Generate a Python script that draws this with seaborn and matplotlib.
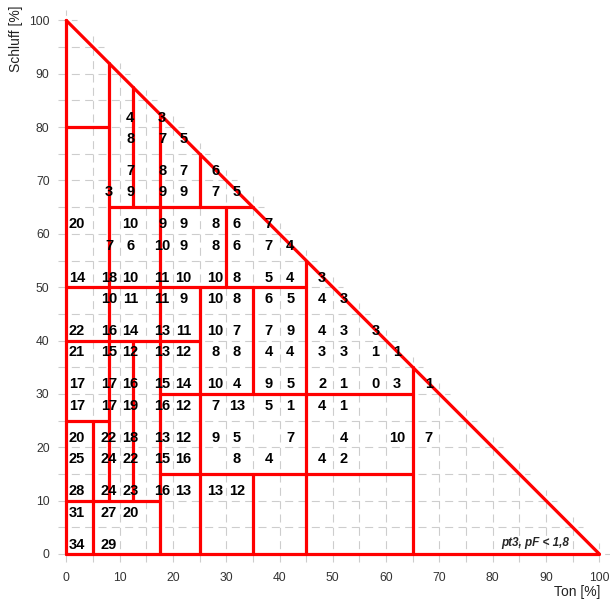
import matplotlib
matplotlib.use('Agg')
import matplotlib.pyplot as plt
import seaborn as sns
import pandas as pd

sns.set_style('white')
plt.rcParams['font.family'] = ['Liberation Sans', 'DejaVu Sans']

# Ton [%] positions of the number columns, Schluff [%] positions of the rows
ton_cols = [2, 8, 12, 18, 22, 28, 32, 38, 42, 48, 52, 58, 62, 68]
schluff_rows = [82, 78, 72, 68, 62, 58, 52, 48, 42, 38, 32, 28, 22, 18, 12, 8, 2]

N = None
values = [
    [N, N, 4, 3, N, N, N, N, N, N, N, N, N, N],        # 82
    [N, N, 8, 7, 5, N, N, N, N, N, N, N, N, N],        # 78
    [N, N, 7, 8, 7, 6, N, N, N, N, N, N, N, N],        # 72
    [N, 3, 9, 9, 9, 7, 5, N, N, N, N, N, N, N],        # 68
    [20, N, 10, 9, 9, 8, 6, 7, N, N, N, N, N, N],      # 62
    [N, 7, 6, 10, 9, 8, 6, 7, 4, N, N, N, N, N],       # 58
    [14, 18, 10, 11, 10, 10, 8, 5, 4, 3, N, N, N, N],  # 52
    [N, 10, 11, 11, 9, 10, 8, 6, 5, 4, 3, N, N, N],    # 48
    [22, 16, 14, 13, 11, 10, 7, 7, 9, 4, 3, 3, N, N],  # 42
    [21, 15, 12, 13, 12, 8, 8, 4, 4, 3, 3, 1, 1, N],   # 38
    [17, 17, 16, 15, 14, 10, 4, 9, 5, 2, 1, 0, 3, 1],  # 32
    [17, 17, 19, 16, 12, 7, 13, 5, 1, 4, 1, N, N, N],  # 28
    [20, 22, 18, 13, 12, 9, 5, N, 7, N, 4, N, 10, 7],  # 22
    [25, 24, 22, 15, 16, N, 8, 4, N, 4, 2, N, N, N],   # 18
    [28, 24, 23, 16, 13, 13, 12, N, N, N, N, N, N, N], # 12
    [31, 27, 20, N, N, N, N, N, N, N, N, N, N, N],     # 8
    [34, 29, N, N, N, N, N, N, N, N, N, N, N, N],      # 2
]

# class boundaries (x1, y1, x2, y2) in Ton / Schluff
boundaries = [
    (0, 0, 100, 0), (0, 0, 0, 100), (0, 100, 100, 0),
    (5, 0, 5, 25), (8, 10, 8, 92), (12.5, 10, 12.5, 40), (12.5, 65, 12.5, 87.5),
    (17.5, 0, 17.5, 82.5), (25, 0, 25, 50), (25, 65, 25, 75), (30, 50, 30, 65),
    (35, 0, 35, 15), (35, 30, 35, 50), (45, 0, 45, 55), (65, 0, 65, 35),
    (0, 80, 8, 80), (8, 65, 35, 65), (0, 50, 45, 50), (0, 40, 25, 40),
    (17.5, 30, 65, 30), (0, 25, 8, 25), (17.5, 15, 65, 15), (0, 10, 17.5, 10),
]

ticks = list(range(0, 101, 10))

fig = plt.figure(figsize=(6.12, 6.02), dpi=100)
ax = fig.add_axes([0.0822, 0.0532, 0.9145, 0.9306])

# dashed grid, only inside the triangle; dashes end at each crossing
for v in range(0, 101, 5):
    end = max(100 - v + 2, 0)
    ax.plot([-1.5, end], [v, v], color='#cdcdcd', lw=0.8, dashes=(7.2, 4.8), zorder=1)
    ax.plot([v, v], [-1.5, end], color='#cdcdcd', lw=0.8, dashes=(7.2, 4.8), zorder=1)

rows = []
for i, (x1, y1, x2, y2) in enumerate(boundaries):
    rows.append({'seg': i, 'ton': x1, 'schluff': y1})
    rows.append({'seg': i, 'ton': x2, 'schluff': y2})
seg_df = pd.DataFrame(rows)
sns.lineplot(data=seg_df, x='ton', y='schluff', units='seg', estimator=None,
             sort=False, color='red', lw=2.3, ax=ax, zorder=3)

for y, row in zip(schluff_rows, values):
    for x, val in zip(ton_cols, row):
        if val is None:
            continue
        ax.text(x, y - 0.98, str(val), ha='center', va='baseline',
                fontsize=10.5, fontweight='bold', color='black', zorder=4)

ax.text(94.3, 2.1, 'pt3, pF < 1,8', ha='right', va='center',
        fontsize=8.5, fontweight='bold', fontstyle='italic', zorder=4)

ax.set_xlim(-3, 102)
ax.set_ylim(-3, 102)
ax.set_xticks(ticks)
ax.set_yticks(ticks)
ax.tick_params(length=0, labelsize=8.7, labelcolor='#333333')
ax.tick_params(axis='x', pad=1.5)
ax.tick_params(axis='y', pad=0.5)
ax.set_xlabel('')
ax.set_ylabel('')
sns.despine(ax=ax, left=True, bottom=True)

fig.text(16 / 612, 1 - 6 / 602, 'Schluff [%]', rotation=90, ha='center', va='top',
         fontsize=10, color='#222222')
fig.text(600 / 612, 1 - 592 / 602, 'Ton [%]', ha='right', va='center',
         fontsize=10, color='#222222')

fig.savefig('out.png', dpi=100)
